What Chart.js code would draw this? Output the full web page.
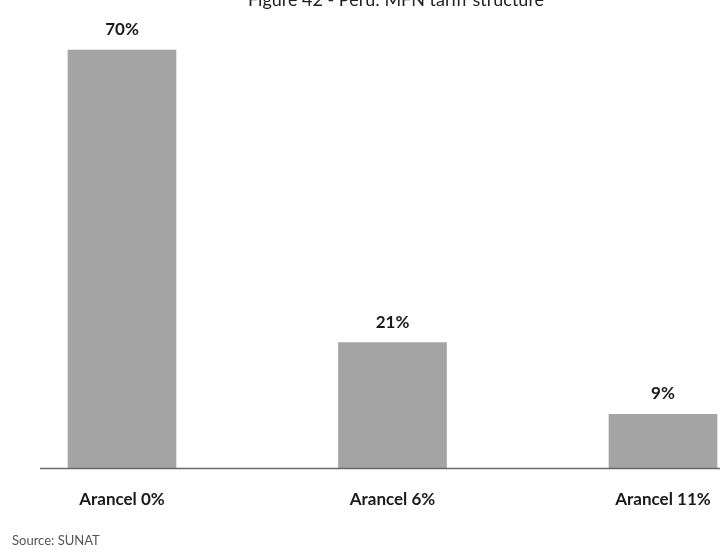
<!DOCTYPE html>
<html><head><meta charset="utf-8">
<script src="https://cdn.jsdelivr.net/npm/chart.js@4.4.0/dist/chart.umd.min.js"></script>
<style>html,body{margin:0;padding:0;background:#fff;}#wrap{width:726px;height:552px;}</style>
</head><body><div id="wrap"><canvas id="c" width="726" height="552"></canvas></div>
<script>
const categories = ["Arancel 0%", "Arancel 6%", "Arancel 11%"];
const shares = [70, 21, 9];
const valueLabels = ["70%", "21%", "9%"];
const titleText = "Figure 42 - Peru: MFN tariff structure";
const sourceText = "Source: SUNAT";

const FONT = "Lato, 'Open Sans', sans-serif";

const extras = {
  id: 'extras',
  afterDatasetsDraw(chart) {
    const ctx = chart.ctx;
    const meta = chart.getDatasetMeta(0);
    const xs = chart.scales.x;
    const yb = chart.scales.y.getPixelForValue(0);
    ctx.save();
    ctx.fillStyle = '#1a1a1a';
    ctx.font = "bold 17px " + FONT;
    ctx.textAlign = 'center';
    ctx.textBaseline = 'alphabetic';
    meta.data.forEach((bar, i) => {
      ctx.fillText(valueLabels[i], bar.x, bar.y - 15);
    });
    // category labels
    categories.forEach((c, i) => {
      ctx.fillText(c, xs.getPixelForValue(i), yb + 37);
    });
    // baseline
    ctx.strokeStyle = '#6a6a6a';
    ctx.lineWidth = 1.5;
    ctx.beginPath();
    ctx.moveTo(40, yb + 0.5);
    ctx.lineTo(720, yb + 0.5);
    ctx.stroke();
    // title (cropped at top)
    ctx.font = "18px " + FONT;
    ctx.fillStyle = '#222';
    ctx.fillText(titleText, 396, 6);
    // source
    ctx.textAlign = 'left';
    ctx.font = "13px " + FONT;
    ctx.fillStyle = '#555';
    ctx.fillText(sourceText, 12, 545);
    ctx.restore();
  }
};

new Chart(document.getElementById('c'), {
  type: 'bar',
  data: {
    labels: categories,
    datasets: [{
      data: shares,
      backgroundColor: '#a4a4a4',
      borderWidth: 0,
      barThickness: 108,
      clip: false
    }]
  },
  options: {
    responsive: false,
    animation: false,
    layout: { padding: { left: 122, right: 63, top: 50, bottom: 84 } },
    plugins: { legend: { display: false }, tooltip: { enabled: false }, title: { display: false } },
    scales: {
      x: {
        offset: false,
        grid: { display: false, drawTicks: false },
        border: { display: false },
        ticks: { display: false }
      },
      y: { display: false, min: 0, max: 70 }
    }
  },
  plugins: [extras]
});
</script></body></html>
